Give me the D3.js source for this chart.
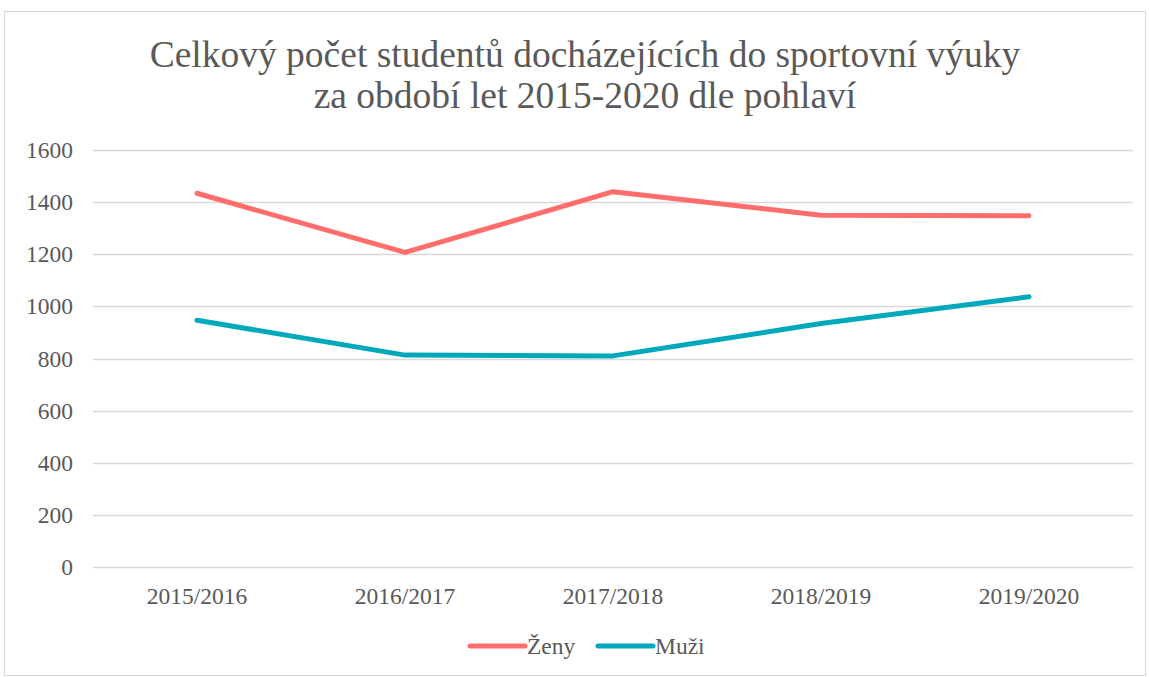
<html>
  <script src="https://cdnjs.cloudflare.com/ajax/libs/d3/7.8.5/d3.min.js"></script>
  <style>
    html, body { margin: 0; padding: 0; background: #fff; }
    svg text { fill: #595959; }
  </style>
  <body>
    <svg id="chart" width="1149" height="677"></svg>
    <script>
      // data
      var years = ["2015/2016", "2016/2017", "2017/2018", "2018/2019", "2019/2020"];
      var zeny = [1434, 1207, 1440, 1350, 1348];
      var muzi = [947, 813, 810, 934, 1037];
      var yTicks = [0, 200, 400, 600, 800, 1000, 1200, 1400, 1600];
      var seriesNames = ["Ženy", "Muži"];
      var seriesColors = ["#FF6E6C", "#00A8BC"];

      var svg = d3.select("#chart");
      var serif = "Liberation Serif";

      // outer frame
      svg.append("rect")
        .attr("x", 4.5).attr("y", 11.5)
        .attr("width", 1141).attr("height", 664)
        .attr("fill", "none").attr("stroke", "#d9d9d9");

      // title
      var title = svg.append("text")
        .attr("text-anchor", "middle")
        .attr("font-family", serif)
        .attr("font-size", 37.5);
      title.append("tspan").attr("x", 585).attr("y", 67).text("Celkový počet studentů docházejících do sportovní výuky");
      title.append("tspan").attr("x", 585).attr("y", 108).text("za období let 2015-2020 dle pohlaví");

      var x = d3.scaleBand().domain(years).range([93, 1133]);
      var y = d3.scaleLinear().domain([0, 1600]).range([567, 150]);

      // gridlines
      svg.append("g").selectAll("line").data(yTicks).join("line")
        .attr("x1", 93).attr("x2", 1133)
        .attr("y1", d => Math.round(y(d)) + 0.5).attr("y2", d => Math.round(y(d)) + 0.5)
        .attr("stroke", "#d9d9d9").attr("stroke-width", 1.3);

      // y labels
      svg.append("g").selectAll("text").data(yTicks).join("text")
        .attr("x", 73).attr("y", d => y(d) + 8)
        .attr("text-anchor", "end")
        .attr("font-family", serif)
        .attr("font-size", 23.5)
        .text(d => d);

      // x labels
      svg.append("g").selectAll("text").data(years).join("text")
        .attr("x", d => x(d) + x.bandwidth() / 2).attr("y", 604)
        .attr("text-anchor", "middle")
        .attr("font-family", serif)
        .attr("font-size", 23.5)
        .text(d => d);

      var line = d3.line()
        .x((d, i) => x(years[i]) + x.bandwidth() / 2)
        .y(d => y(d));

      [zeny, muzi].forEach(function(s, i) {
        svg.append("path")
          .attr("d", line(s))
          .attr("fill", "none")
          .attr("stroke", seriesColors[i])
          .attr("stroke-width", 5)
          .attr("stroke-linecap", "round")
          .attr("stroke-linejoin", "round");
      });

      // legend
      var legendX = [470, 598];
      seriesNames.forEach(function(n, i) {
        var g = svg.append("g");
        g.append("line")
          .attr("x1", legendX[i]).attr("x2", legendX[i] + 55)
          .attr("y1", 646).attr("y2", 646)
          .attr("stroke", seriesColors[i]).attr("stroke-width", 5)
          .attr("stroke-linecap", "round");
        g.append("text")
          .attr("x", legendX[i] + 57).attr("y", 654)
          .attr("font-family", serif)
          .attr("font-size", 23.5)
          .text(n);
      });
    </script>
  </body>
</html>
